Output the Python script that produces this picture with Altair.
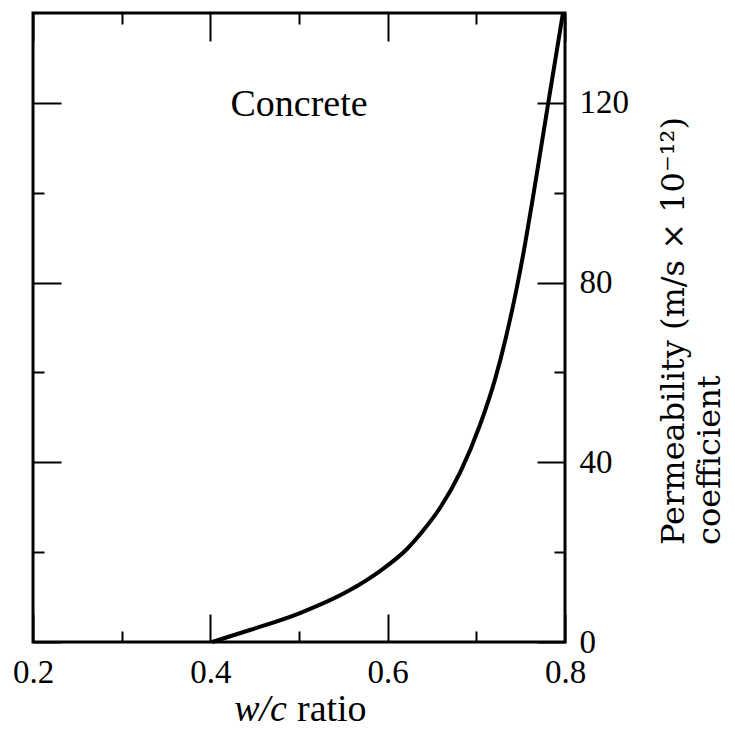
import altair as alt
import pandas as pd

# Curve: w/c ratio vs permeability coefficient (m/s x 1e-12)
wc_ratio = [0.402, 0.4447, 0.5011, 0.5575, 0.5913, 0.6218, 0.6421, 0.6590,
            0.6816, 0.7041, 0.7210, 0.7335, 0.7459, 0.7549, 0.7639, 0.7808, 0.7977]
permeability = [0.0, 2.67, 6.45, 11.57, 15.80, 20.70, 25.3, 29.82,
                37.7, 48.3, 58.4, 67.9, 79.1, 88.5, 99.0, 119.6, 140.0]

x_major = [0.2, 0.4, 0.6, 0.8]
x_minor = [0.3, 0.5, 0.7]
y_major = [0, 40, 80, 120]
y_minor = [20, 60, 100]

annot_text = ["Concrete"]
annot_x = [0.5]
annot_y = [117]

x_title_italic = "w/c"
x_title_plain = "ratio"
x_title_split = [0.4887]
y_title = "Permeability (m/s × 10\u207B\u00B9\u00B2)\ncoefficient"

W, H = 532, 629
SERIF = "Liberation Serif"
SERIF2 = "DejaVu Serif"

df = pd.DataFrame({"w": wc_ratio, "k": permeability})
df_ann = pd.DataFrame({"x": annot_x, "y": annot_y, "t": annot_text})
df_split = pd.DataFrame({"x": x_title_split})

xs = alt.Scale(domain=[0.2, 0.8], nice=False, zero=False)
ys = alt.Scale(domain=[0, 140], nice=False)


def ax(orient, values, size, labels, fmt=None, pad=0):
    kw = dict(orient=orient, values=values, tickSize=size, offset=-size,
              domain=False, grid=False, labels=labels, title=None,
              tickColor="black", tickWidth=2)
    if labels:
        kw.update(format=fmt, labelPadding=pad, labelFlush=False,
                  labelFont=SERIF, labelFontSize=33, labelColor="black",
                  labelOverlap=False)
    return alt.Axis(**kw)


base = alt.Chart(df)

curve = base.mark_line(color="black", strokeWidth=4, interpolate="monotone").encode(
    x=alt.X("w:Q", scale=xs, axis=ax("bottom", x_major, 28, True, ".1f", 14)),
    y=alt.Y("k:Q", scale=ys, axis=ax("right", y_major, 28, True, "d", 14)),
)
l2 = base.mark_line(opacity=0).encode(
    x=alt.X("w:Q", scale=xs, axis=ax("bottom", x_minor, 11, False)),
    y=alt.Y("k:Q", scale=ys, axis=ax("right", y_minor, 11, False)),
)
l3 = base.mark_line(opacity=0).encode(
    x=alt.X("w:Q", scale=xs, axis=ax("top", x_major, 28, False)),
    y=alt.Y("k:Q", scale=ys, axis=ax("left", y_major, 28, False)),
)
l4 = base.mark_line(opacity=0).encode(
    x=alt.X("w:Q", scale=xs, axis=ax("top", x_minor, 11, False)),
    y=alt.Y("k:Q", scale=ys, axis=ax("left", y_minor, 11, False)),
)

annot = alt.Chart(df_ann).mark_text(
    font=SERIF, fontSize=38, color="black", align="center", baseline="alphabetic"
).encode(
    x=alt.X("x:Q", scale=xs, axis=None),
    y=alt.Y("y:Q", scale=ys, axis=None),
    text="t:N",
)

xt1 = alt.Chart(df_split).mark_text(
    font=SERIF, fontSize=38, fontStyle="italic", color="black",
    align="right", baseline="alphabetic", dx=-2
).encode(
    x=alt.X("x:Q", scale=xs, axis=None),
    y=alt.value(H + 79),
    text=alt.value(x_title_italic),
)
xt2 = alt.Chart(df_split).mark_text(
    font=SERIF, fontSize=38, color="black",
    align="left", baseline="alphabetic", dx=8
).encode(
    x=alt.X("x:Q", scale=xs, axis=None),
    y=alt.value(H + 79),
    text=alt.value(x_title_plain),
)

yt = alt.Chart(df_split).mark_text(
    font=SERIF2, fontSize=32, color="black", angle=270,
    align="left", baseline="alphabetic", lineBreak="\n", lineHeight=36
).encode(
    x=alt.value(W + 119),
    y=alt.value(H - 97),
    text=alt.value(y_title),
)

chart = alt.layer(curve, l2, l3, l4, annot, xt1, xt2, yt).resolve_axis(
    x="independent", y="independent"
).properties(
    width=W, height=H,
    autosize=alt.AutoSizeParams(type="none"),
    padding={"left": 25, "top": 5, "right": 162, "bottom": 86},
).configure(
    background="white",
    view=alt.ViewConfig(stroke="black", strokeWidth=3),
)

chart.save("out.html", embed_options={"renderer": "svg", "actions": False})
